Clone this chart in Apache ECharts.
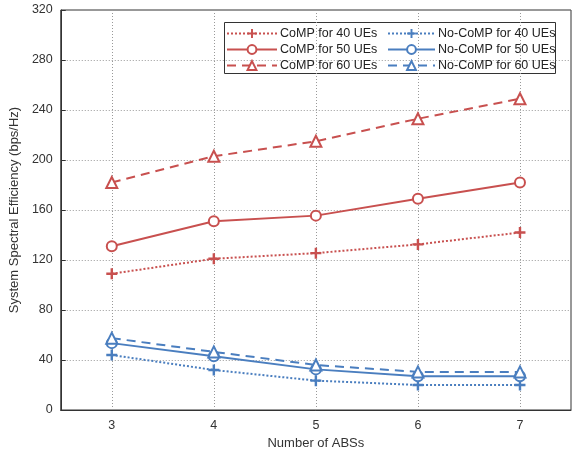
<!DOCTYPE html>
<html>
<head>
<meta charset="utf-8">
<script src="https://cdn.jsdelivr.net/npm/echarts@6/dist/echarts.min.js"></script>
<style>
  html, body { margin: 0; padding: 0; background: #fff; }
  #chart { width: 580px; height: 458px; }
</style>
</head>
<body>
<div id="chart"></div>
<script>
// x categories (number of ABSs)
const absCounts = ['3', '4', '5', '6', '7'];

// values
const comp40 = [109, 121, 125.5, 132.5, 142];
const comp50 = [131, 151, 155.5, 169, 182];
const comp60 = [182, 203, 215, 233, 249];
const nocomp40 = [44, 32, 23.5, 20, 20];
const nocomp50 = [53.5, 43, 32.5, 27, 27];
const nocomp60 = [57.5, 46.5, 36, 30.5, 30.5];

const yTicks = [0, 40, 80, 120, 160, 200, 240, 280, 320];

const RED = '#c8504f';
const BLUE = '#4a7ebf';
const PLUS = 'path://M3.9,0H6.1V3.9H10V6.1H6.1V10H3.9V6.1H0V3.9H3.9Z';

function mkSeries(name, data, color, dash, marker) {
  const isPlus = marker === PLUS;
  return {
    name: name,
    type: 'line',
    data: data,
    symbol: marker,
    symbolSize: isPlus ? 11 : (marker === 'triangle' ? 11 : 10),
    showAllSymbol: true,
    lineStyle: { color: color, width: 2, type: dash },
    itemStyle: isPlus
      ? { color: color, borderWidth: 0 }
      : { color: '#fff', borderColor: color, borderWidth: 2 },
    emphasis: { disabled: true },
    z: 3
  };
}

const chart = echarts.init(document.getElementById('chart'), null, { renderer: 'canvas' });

const option = {
  backgroundColor: '#fff',
  animation: false,
  textStyle: { fontFamily: 'Liberation Sans, Arial, sans-serif' },
  grid: {
    left: 57, right: 9, top: 10, bottom: 48,
    show: true, borderColor: '#333', borderWidth: 1
  },
  legend: [
    {
      data: ['CoMP for 40 UEs', 'CoMP for 50 UEs', 'CoMP for 60 UEs'],
      orient: 'vertical',
      left: 226, top: 27,
      itemWidth: 50, itemHeight: 11, itemGap: 3,
      padding: 0,
      textStyle: { fontSize: 12.5, color: '#222', padding: [0, 0, 0, -2] }
    },
    {
      data: ['No-CoMP for 40 UEs', 'No-CoMP for 50 UEs', 'No-CoMP for 60 UEs'],
      orient: 'vertical',
      left: 387, top: 27,
      itemWidth: 47, itemHeight: 11, itemGap: 3,
      padding: 0,
      textStyle: { fontSize: 12.5, color: '#222', padding: [0, 0, 0, -2] }
    }
  ],
  graphic: [{
    type: 'rect',
    shape: { x: 224.5, y: 22.5, width: 331, height: 51 },
    style: { fill: '#fff', stroke: '#333', lineWidth: 1 },
    z: 0,
    zlevel: 0
  }],
  xAxis: {
    type: 'category',
    data: absCounts,
    boundaryGap: true,
    name: 'Number of ABSs',
    nameLocation: 'middle',
    nameGap: 27,
    nameTextStyle: { fontSize: 13, color: '#333' },
    axisLine: { lineStyle: { color: '#333' } },
    axisTick: { alignWithLabel: true, inside: true, length: 5, lineStyle: { color: '#333' } },
    axisLabel: { fontSize: 12.5, color: '#333', margin: 9 },
    splitLine: { show: true, alignWithLabel: true, lineStyle: { color: '#999', type: [1, 2] } }
  },
  yAxis: {
    type: 'value',
    min: 0, max: 320, interval: 40,
    name: 'System Spectral Efficiency (bps/Hz)',
    nameLocation: 'middle',
    nameGap: 33,
    nameTextStyle: { fontSize: 13, color: '#333' },
    axisLine: { show: true, lineStyle: { color: '#333' } },
    axisTick: { show: true, inside: true, length: 5, lineStyle: { color: '#333' } },
    axisLabel: {
      fontSize: 12.5, color: '#333', margin: 8,
      formatter: v => (yTicks.indexOf(v) >= 0 ? String(v) : '')
    },
    splitLine: { show: true, lineStyle: { color: '#999', type: [1, 2] } }
  },
  series: [
    mkSeries('CoMP for 40 UEs', comp40, RED, [2, 2], PLUS),
    mkSeries('CoMP for 50 UEs', comp50, RED, 'solid', 'circle'),
    mkSeries('CoMP for 60 UEs', comp60, RED, [9, 6], 'triangle'),
    mkSeries('No-CoMP for 40 UEs', nocomp40, BLUE, [2, 2], PLUS),
    mkSeries('No-CoMP for 50 UEs', nocomp50, BLUE, 'solid', 'circle'),
    mkSeries('No-CoMP for 60 UEs', nocomp60, BLUE, [9, 6], 'triangle')
  ]
};

chart.setOption(option);
</script>
</body>
</html>
